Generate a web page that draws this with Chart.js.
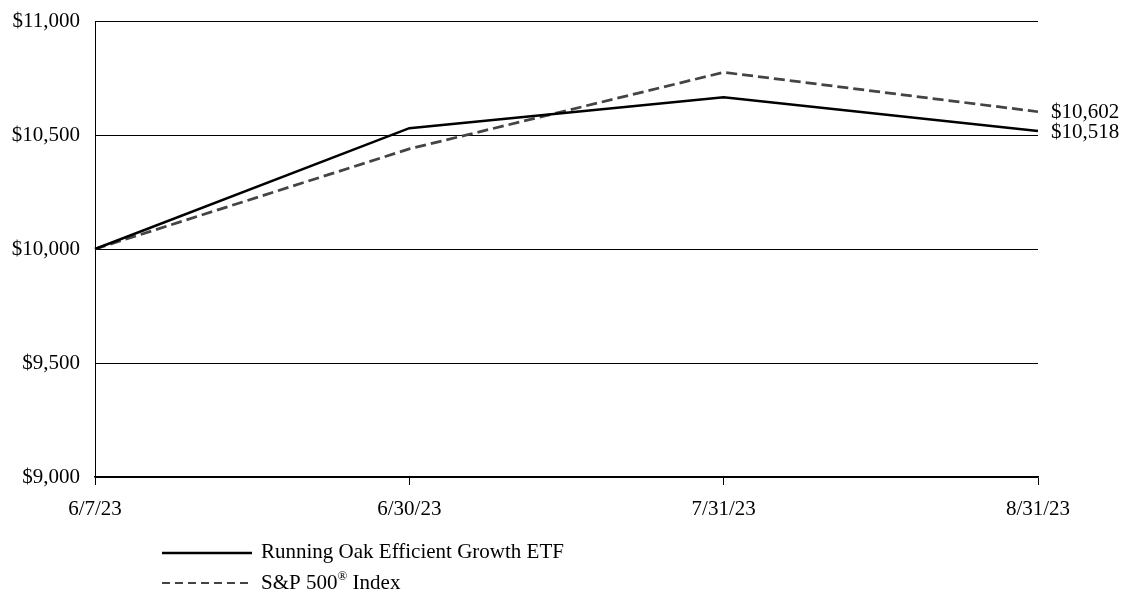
<!DOCTYPE html>
<html>
<head>
  <title>Growth of $10,000</title>
  <script src="https://cdn.jsdelivr.net/npm/chart.js"></script>
  <style>
    body { margin: 0; background: #fff; }
    .wrap { width: 1121px; height: 592px; position: relative; }
  </style>
</head>
<body>
<div class="wrap">
  <canvas id="growthChart" width="1121" height="592"></canvas>
</div>
<script>
  const dates = ['6/7/23', '6/30/23', '7/31/23', '8/31/23'];
  const fundValues = [10000, 10530, 10665, 10518];
  const indexValues = [10000, 10439, 10775, 10602];
  const yTicks = [9000, 9500, 10000, 10500, 11000];
  const fundName = 'Running Oak Efficient Growth ETF';
  const indexName = 'S&P 500® Index';

  const serif = '"Liberation Serif", "Times New Roman", serif';
  const fontSize = 21;
  const money = v => '$' + v.toLocaleString('en-US');

  // ==== end-of-line value labels + legend ====
  const extras = {
    id: 'extras',
    afterDraw(chart) {
      const ctx = chart.ctx;
      const x = chart.scales.x, y = chart.scales.y;
      ctx.save();
      ctx.font = fontSize + 'px ' + serif;
      ctx.fillStyle = '#000';
      ctx.textBaseline = 'middle';
      ctx.textAlign = 'left';
      const last = dates.length - 1;
      ctx.fillText(money(indexValues[last]), x.getPixelForValue(last) + 13, y.getPixelForValue(indexValues[last]) + 1);
      ctx.fillText(money(fundValues[last]), x.getPixelForValue(last) + 13, y.getPixelForValue(fundValues[last]) + 2);

      // legend
      const lx = 162, lw = 90, tx = 261;
      ctx.lineWidth = 2.5;
      ctx.strokeStyle = '#000';
      ctx.beginPath(); ctx.moveTo(lx, 553); ctx.lineTo(lx + lw, 553); ctx.stroke();
      ctx.fillText(fundName, tx, 552);

      ctx.lineWidth = 2;
      ctx.strokeStyle = '#444';
      ctx.setLineDash([8, 5]);
      ctx.beginPath(); ctx.moveTo(lx, 583); ctx.lineTo(lx + lw, 583); ctx.stroke();
      ctx.setLineDash([]);
      const parts = indexName.split('®');
      ctx.fillText(parts[0], tx, 583);
      let w = ctx.measureText(parts[0]).width;
      ctx.font = '13px ' + serif;
      ctx.fillText('®', tx + w, 577);
      w += ctx.measureText('®').width;
      ctx.font = fontSize + 'px ' + serif;
      ctx.fillText(parts[1], tx + w, 583);
      ctx.restore();
    }
  };

  new Chart(document.getElementById('growthChart'), {
    type: 'line',
    data: {
      labels: dates,
      datasets: [
        {
          label: fundName,
          data: fundValues,
          borderColor: '#000',
          borderWidth: 2.5,
          pointRadius: 0,
          tension: 0
        },
        {
          label: indexName,
          data: indexValues,
          borderColor: '#444',
          borderWidth: 2.75,
          borderDash: [11, 5],
          pointRadius: 0,
          tension: 0
        }
      ]
    },
    options: {
      responsive: false,
      animation: false,
      layout: { padding: { top: 21, right: 83, bottom: 70, left: 0 } },
      plugins: {
        legend: { display: false },
        tooltip: { enabled: false }
      },
      scales: {
        x: {
          offset: false,
          border: { display: true, color: '#000', width: 1.5 },
          grid: { drawOnChartArea: false, drawTicks: true, tickLength: 8, color: '#000', lineWidth: 1 },
          ticks: { color: '#000', font: { family: serif, size: fontSize }, padding: 12, maxRotation: 0 },
          afterFit: s => { s.height = 45; s.paddingLeft = 0; s.paddingRight = 0; }
        },
        y: {
          min: 9000,
          max: 11000,
          afterBuildTicks: s => { s.ticks = yTicks.map(v => ({ value: v })); },
          border: { display: true, color: '#000', width: 1 },
          grid: { color: '#000', lineWidth: 1, drawTicks: false },
          ticks: { color: '#000', font: { family: serif, size: fontSize }, padding: 15, callback: v => money(v) },
          afterFit: s => { s.width = 95; s.paddingTop = 0; s.paddingBottom = 0; }
        }
      }
    },
    plugins: [extras]
  });
</script>
</body>
</html>
